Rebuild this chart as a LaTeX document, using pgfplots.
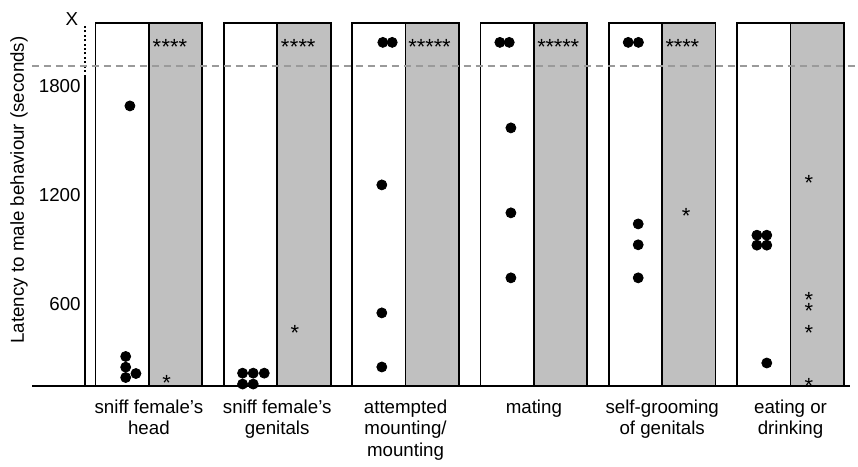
\documentclass[border=0pt]{standalone}
\usepackage{fontspec}
\setmainfont{Liberation Sans}
\usepackage{pgfplots}
\pgfplotsset{compat=1.18}
\definecolor{boxgrey}{HTML}{C0C0C0}
\definecolor{dashgrey}{HTML}{9A9A9A}
\begin{document}
\begin{tikzpicture}
\begin{axis}[
  x=64.2bp, y=0.090835bp,
  xmin=-0.911, xmax=5.52, ymin=149, ymax=2147,
  axis line style={draw=none},
  clip=false,
  major tick length=0pt,
  ytick={600,1200,1800},
  xtick={0,1,2,3,4,5},
  xticklabels={{sniff female's\\head},{sniff female's\\genitals},{attempted\\mounting/\\mounting},{mating},{self-grooming\\of genitals},{eating or\\drinking}},
  xticklabel style={align=center, anchor=north, yshift=-3.5bp, font=\fontsize{9.4}{10.8}\selectfont},
  yticklabel style={anchor=east, xshift=24.5bp, inner sep=0pt, font=\fontsize{9.4}{10.8}\selectfont},
  /pgf/number format/assume math mode=true,
  /pgf/number format/1000 sep={},
  font=\fontsize{9.4}{10.8}\selectfont,
]
% boxes
\addplot[draw=black, fill=white, line width=0.9bp] coordinates {(-0.416,149) (-0.416,2147) (0,2147) (0,149)} -- cycle;
\addplot[draw=black, fill=white, line width=0.9bp] coordinates {(0.584,149) (0.584,2147) (1,2147) (1,149)} -- cycle;
\addplot[draw=black, fill=white, line width=0.9bp] coordinates {(1.584,149) (1.584,2147) (2,2147) (2,149)} -- cycle;
\addplot[draw=black, fill=white, line width=0.9bp] coordinates {(2.584,149) (2.584,2147) (3,2147) (3,149)} -- cycle;
\addplot[draw=black, fill=white, line width=0.9bp] coordinates {(3.584,149) (3.584,2147) (4,2147) (4,149)} -- cycle;
\addplot[draw=black, fill=white, line width=0.9bp] coordinates {(4.584,149) (4.584,2147) (5,2147) (5,149)} -- cycle;
\addplot[draw=black, fill=boxgrey, line width=0.9bp] coordinates {(0,149) (0,2147) (0.416,2147) (0.416,149)} -- cycle;
\addplot[draw=black, fill=boxgrey, line width=0.9bp] coordinates {(1,149) (1,2147) (1.416,2147) (1.416,149)} -- cycle;
\addplot[draw=black, fill=boxgrey, line width=0.9bp] coordinates {(2,149) (2,2147) (2.416,2147) (2.416,149)} -- cycle;
\addplot[draw=black, fill=boxgrey, line width=0.9bp] coordinates {(3,149) (3,2147) (3.416,2147) (3.416,149)} -- cycle;
\addplot[draw=black, fill=boxgrey, line width=0.9bp] coordinates {(4,149) (4,2147) (4.416,2147) (4.416,149)} -- cycle;
\addplot[draw=black, fill=boxgrey, line width=0.9bp] coordinates {(5,149) (5,2147) (5.416,2147) (5.416,149)} -- cycle;
% axes lines
\addplot[black, line width=1bp] coordinates {(-0.911,149) (5.46,149)};
\addplot[black, line width=1bp] coordinates {(-0.498,149) (-0.498,1860)};
\addplot[black, line width=1.3bp, dash pattern=on 1bp off 1.2bp] coordinates {(-0.498,1877) (-0.498,2136)};
\addplot[dashgrey, line width=0.75bp, dash pattern=on 3.5bp off 2.5bp] coordinates {(-0.911,1910) (5.52,1910)};
% dots
\addplot[only marks, mark=*, mark size=2.5bp, black] coordinates {
(-0.148,1690) (-0.181,310) (-0.181,251) (-0.181,194) (-0.101,216)
(0.730,218) (0.813,218) (0.899,218) (0.730,158) (0.813,158)
(1.823,2040) (1.896,2040) (1.815,1255) (1.815,550) (1.815,252)
(2.735,2040) (2.808,2040) (2.821,1569) (2.821,1101) (2.821,743)
(3.735,2040) (3.815,2040) (3.813,1040) (3.813,925) (3.813,743)
(4.738,978) (4.815,978) (4.738,923) (4.815,923) (4.815,274)
};
% asterisks
\addplot[only marks, mark=text, text mark={*}, text mark as node=true,
  text mark style={font=\fontsize{11}{11}\selectfont, inner sep=0pt, yshift=-2.5bp}] coordinates {
(0.062,2045) (0.132,2045) (0.199,2045) (0.265,2045) (0.138,194)
(1.062,2045) (1.132,2045) (1.199,2045) (1.265,2045) (1.138,466)
(2.055,2045) (2.121,2045) (2.187,2045) (2.253,2045) (2.319,2045)
(3.060,2045) (3.125,2045) (3.190,2045) (3.255,2045) (3.320,2045)
(4.060,2045) (4.125,2045) (4.190,2045) (4.255,2045) (4.187,1112)
(5.143,1294) (5.143,646) (5.143,587) (5.143,468) (5.143,176)
};
\node[rotate=90, font=\fontsize{9.4}{10.8}\selectfont] at (axis cs:-1.012,1227) {Latency to male behaviour (seconds)};
\node[font=\fontsize{9.4}{10.8}\selectfont] at (axis cs:-0.6,2169) {X};
\path (axis cs:-1.1604,-269.7) rectangle (axis cs:5.5218,2273.4);
\end{axis}
\end{tikzpicture}
\end{document}
